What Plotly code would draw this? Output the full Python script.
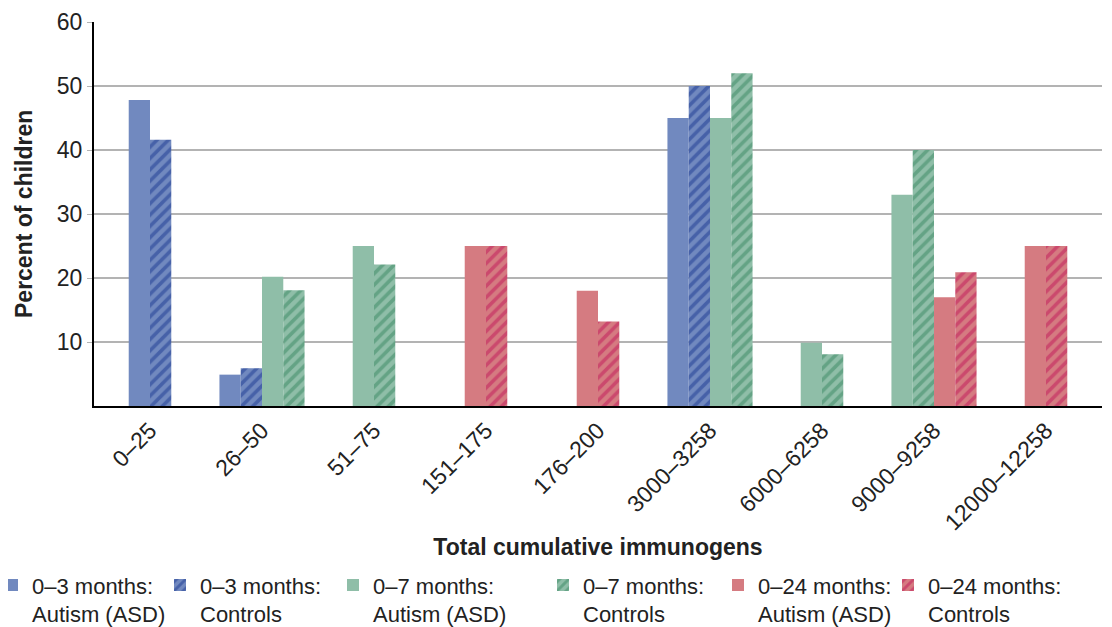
import plotly.graph_objects as go

categories = ["0–25", "26–50", "51–75", "151–175", "176–200",
              "3000–3258", "6000–6258", "9000–9258", "12000–12258"]

series_names = ["0–3 months:<br>Autism (ASD)", "0–3 months:<br>Controls",
                "0–7 months:<br>Autism (ASD)", "0–7 months:<br>Controls",
                "0–24 months:<br>Autism (ASD)", "0–24 months:<br>Controls"]

asd_0_3 = [47.8, 4.9, None, None, None, 45.0, None, None, None]
ctl_0_3 = [41.6, 5.9, None, None, None, 50.0, None, None, None]
asd_0_7 = [None, 20.2, 25.0, None, None, 45.0, 9.9, 33.0, None]
ctl_0_7 = [None, 18.1, 22.1, None, None, 52.0, 8.1, 40.0, None]
asd_0_24 = [None, None, None, 25.0, 18.0, None, None, 17.0, 25.0]
ctl_0_24 = [None, None, None, 25.0, 13.2, None, None, 20.9, 25.0]

series_values = [asd_0_3, ctl_0_3, asd_0_7, ctl_0_7, asd_0_24, ctl_0_24]

solid_colors = ["#7189bf", "#7189bf", "#8fbea8", "#8fbea8", "#d57b81", "#d57b81"]
stripe_colors = [None, "#1c3a92", None, "#3a8862", None, "#c2185a"]

y_ticks = [10, 20, 30, 40, 50, 60]

# horizontal start (px, figure coords) of each legend entry
legend_x_px = [-16, 152, 325, 535, 710, 880]

FONT = "Liberation Sans, Arial, sans-serif"
FS = 23
LFS = 22
W, H = 1112, 627
ML, MR, MT, MB = 86, 18, 14, 229
PW = W - ML - MR
bar_w = 0.19

# compute per-category offsets so that only present bars are packed & centered
present = [[k for k in range(len(series_values)) if series_values[k][i] is not None]
           for i in range(len(categories))]

fig = go.Figure()
legend_layouts = {}
for k, (name, vals) in enumerate(zip(series_names, series_values)):
    offsets = []
    for i in range(len(categories)):
        lst = present[i]
        if k in lst:
            j = lst.index(k)
            offsets.append(-len(lst) * bar_w / 2 + j * bar_w)
        else:
            offsets.append(0)
    marker = dict(color=solid_colors[k], line=dict(width=0))
    if stripe_colors[k]:
        marker["pattern"] = dict(shape="/", fgcolor=stripe_colors[k],
                                 bgcolor=solid_colors[k], fillmode="overlay",
                                 size=8, solidity=0.45)
    lname = "legend" if k == 0 else f"legend{k + 1}"
    fig.add_trace(go.Bar(x=categories, y=vals, name=name, marker=marker,
                         offset=offsets, width=[bar_w] * len(categories),
                         legend=lname, showlegend=True))
    legend_layouts[lname] = dict(
        orientation="h", xref="paper", yref="container",
        x=(legend_x_px[k] - ML) / PW, y=0.113, xanchor="left", yanchor="top",
        valign="top", font=dict(size=LFS, color="#222"),
        bgcolor="rgba(0,0,0,0)", itemwidth=30, visible=True)

fig.update_layout(
    width=W, height=H,
    showlegend=True,
    barmode="overlay",
    plot_bgcolor="white", paper_bgcolor="white",
    margin=dict(l=ML, r=MR, t=MT, b=MB, autoexpand=False),
    font=dict(family=FONT, size=FS, color="#222"),
    xaxis=dict(type="category", range=[-0.5, len(categories) - 0.5],
               tickangle=-45, showline=True, linecolor="black", linewidth=2,
               showgrid=False, ticks="", tickfont=dict(size=FS),
               automargin=False,
               title=dict(text="<b>Total cumulative immunogens</b>",
                          font=dict(size=FS), standoff=5)),
    yaxis=dict(range=[0, 60], tickvals=y_ticks, showline=True,
               linecolor="black", linewidth=2, showgrid=True,
               gridcolor="#b3b3b3", gridwidth=1.5, ticks="outside",
               ticklen=5, tickcolor="#b3b3b3", tickfont=dict(size=FS),
               zeroline=False, automargin=False),
    annotations=[dict(text="<b>Percent of children</b>", textangle=-90,
                      xref="paper", yref="paper", x=(16 - ML) / PW, y=0.5,
                      xanchor="center", yanchor="middle", showarrow=False,
                      font=dict(size=FS, color="#222"))],
)
fig.update_layout(**legend_layouts)

fig.write_html("out.html")
